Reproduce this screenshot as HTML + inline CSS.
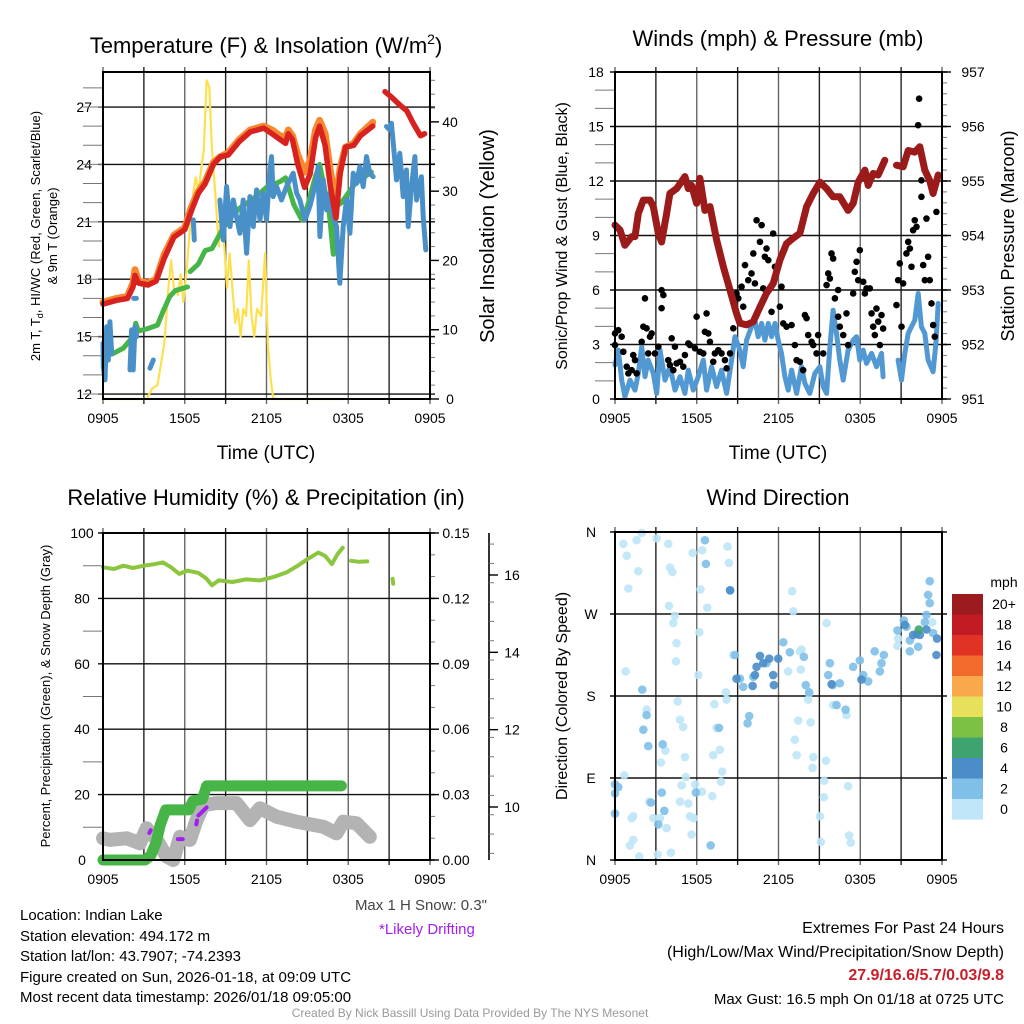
<!DOCTYPE html>
<html><head><meta charset="utf-8"><style>
html,body{margin:0;padding:0;background:#fff;}
svg{display:block;font-family:"Liberation Sans",Arial,sans-serif;}
</style></head><body>
<svg id="c" width="1024" height="1024" viewBox="0 0 1024 1024" xmlns="http://www.w3.org/2000/svg"></svg>
<script>
// ---------- DATA ----------
const timeTickLabels = ["0905","1505","2105","0305","0905"];
// Panel 1 (hours since 0905, deg F)
const tempRed = [[0,16.7],[1,16.9],[1.8,17.0],[2.2,17.6],[2.35,18.2],[2.6,17.8],[3.3,17.7],[3.9,17.9],[4.5,19.1],[5.2,20.2],[6.0,20.6],[6.5,21.6],[7,22.5],[7.5,23.0],[8.1,24.0],[8.6,24.4],[9.2,24.5],[10,25.2],[10.8,25.7],[11.8,25.9],[12.4,25.6],[13,25.3],[13.4,25.1],[13.6,25.6],[13.9,25.3],[14.3,24.0],[14.8,22.8],[15.2,23.5],[15.6,25.4],[15.9,26.0],[16.3,25.0],[16.7,22.8],[17.1,21.2],[17.4,23.5],[17.8,24.9],[18.4,25.0],[18.9,25.5],[19.8,26.0],null,[20.7,27.8],[21.2,27.5],[21.8,27.1],[22.3,26.8],[22.8,26.1],[23.3,25.5],[23.6,25.6]];
const tempOrange = [[0,16.8],[1,17.0],[1.8,17.1],[2.2,17.8],[2.35,18.5],[2.6,17.9],[3.3,17.8],[3.9,18.0],[4.5,19.3],[5.2,20.3],[6.0,20.7],[6.5,21.8],[7,22.6],[7.5,23.1],[8.1,24.1],[8.6,24.4],[9.2,24.6],[10,25.3],[10.8,25.8],[11.8,26.0],[12.4,25.8],[13,25.5],[13.4,25.4],[13.6,25.8],[13.9,25.5],[14.3,24.5],[14.8,23.6],[15.2,24.2],[15.6,25.8],[15.9,26.3],[16.3,25.6],[16.7,23.6],[17.1,22.0],[17.4,23.8],[17.8,24.9],[18.4,25.1],[18.9,25.6],[19.8,26.2]];
const dewGreen = [[0,14.0],[0.7,14.1],[1.5,14.4],[2.2,15.0],[2.4,15.7],[2.6,15.3],[3.2,15.4],[4,15.6],[4.4,16.3],[4.9,17.1],[5.3,17.4],[6.2,17.6],null,[6.4,18.4],[7,18.8],[7.5,19.5],[8,19.6],[8.6,20.4],[9.3,21.2],[10,21.7],[11,22.2],[12,22.8],[13,23.1],[13.4,23.3],[14,21.9],[14.6,21.1],[15,21.8],[15.6,23.4],[15.9,24.0],[16.3,22.6],[16.6,21.5],[16.9,19.3],[17.1,21.8],[17.5,22.0],[18.5,23.0],[19.7,23.6]];
const chillBlue = [[0,14.65],[0.02,13.43],[0.15,12.74],[0.27,15.52],[0.39,13.78],[0.51,15.78],[0.64,14.13],null,[1.98,13.26],[2.1,15.35],[2.22,13.26],[2.35,15.52],[2.47,15.0],null,[2.25,17.0],[2.45,17.0],null,[3.45,13.35],[3.69,13.78],null,[6.63,21.1],[6.7,20.05],null,[8.58,22.14],[8.83,20.05],[9.07,22.84],[9.32,20.75],[9.56,22.14],[9.8,21.27],[10.05,20.4],[10.29,22.14],[10.54,19.36],[10.78,22.32],[11.03,20.75],[11.27,22.67],[11.52,21.1],[11.76,22.5],[12.0,21.1],[12.25,23.71],[12.37,24.41],[12.49,22.32],[12.74,22.84],[13.1,22.14],[13.47,22.84],[13.96,23.54],[14.21,22.5],[14.45,22.14],[14.82,21.1],[15.18,21.8],[15.43,22.5],[15.67,23.19],[15.79,23.88],[15.92,20.23],[16.16,23.19],[16.41,21.62],[16.65,22.5],[16.89,21.27],[17.14,20.75],[17.38,17.79],[17.51,19.36],[17.63,20.75],[17.87,22.14],[18.12,20.4],[18.36,23.54],[18.61,23.01],[18.85,23.88],[19.1,22.84],[19.34,24.41],[19.58,23.54],[19.83,23.36],null,[20.81,25.98],[21.05,25.8],[21.17,26.15],[21.42,24.23],[21.54,23.19],[21.78,24.58],[22.03,22.32],[22.27,23.71],[22.4,20.75],[22.64,22.84],[22.89,24.41],[23.01,22.14],[23.37,23.36],[23.5,21.27],[23.69,19.53]];
const solar = [[0,0],[3.2,0],[3.6,1.5],[4.0,2],[4.5,8],[4.8,16],[5.0,20],[5.2,16],[5.5,15],[5.7,18],[5.9,14],[6.2,20],[6.5,28],[6.8,32],[7.0,30],[7.4,36],[7.6,46],[7.8,45],[8.0,36],[8.3,28],[8.5,22],[8.7,28],[8.9,22],[9.1,16],[9.3,21],[9.5,16],[9.7,11],[9.9,13],[10.1,9],[10.3,13],[10.5,12],[10.7,20],[10.9,12],[11.1,9],[11.3,13],[11.6,12],[11.9,21],[12.1,8],[12.3,3],[12.5,0],[17.5,0]];
const tempTicks = [12,15,18,21,24,27];
const solarTicks = [0,10,20,30,40];
// Panel 2
const pressure = [[0,954.19],[0.37,954.10],[0.73,953.82],[1.22,953.98],[1.47,953.98],[1.71,954.40],[2.08,954.65],[2.57,954.65],[2.81,954.53],[3.18,954.04],[3.42,953.88],[3.79,954.40],[4.03,954.77],[4.52,954.86],[4.77,954.95],[5.13,955.08],[5.38,954.86],[5.62,954.92],[5.99,954.59],[6.23,955.05],[6.60,954.46],[6.97,954.53],[7.46,953.92],[7.95,953.43],[8.44,953.00],[8.92,952.57],[9.17,952.39],[9.66,952.36],[10.15,952.42],[10.64,952.69],[11.12,952.94],[11.61,953.12],[12.10,953.55],[12.59,953.85],[13.08,953.95],[13.57,954.04],[14.06,954.53],[14.55,954.77],[15.04,954.98],[15.53,954.86],[16.01,954.71],[16.50,954.71],[17.11,954.46],[17.48,954.59],[17.85,954.98],[18.34,955.20],[18.58,954.92],[18.95,955.14],[19.32,955.11],[19.80,955.38],null,[20.66,955.29],[21.15,955.26],[21.52,955.56],[22.0,955.53],[22.37,955.63],[22.74,955.20],[23.1,955.01],[23.35,954.77],[23.72,955.11]];
const windSpeed = [[0,1.87],[0.24,2.69],[0.49,1.04],[0.73,0.13],[1.1,1.04],[1.47,0.49],[1.71,1.41],[1.96,2.88],[2.2,1.23],[2.44,2.14],[2.81,1.41],[3.06,0.31],[3.3,2.69],[3.67,1.04],[4.03,1.78],[4.4,0.49],[4.77,1.23],[5.13,0.31],[5.38,1.59],[5.75,0.49],[6.11,1.23],[6.48,2.14],[6.72,0.49],[7.09,1.78],[7.46,0.68],[7.82,1.59],[8.19,0.31],[8.56,2.14],[8.8,3.43],[9.17,2.69],[9.41,1.78],[9.66,3.24],[10.02,3.98],[10.27,4.34],[10.51,3.43],[10.76,4.16],[11.0,3.24],[11.25,4.16],[11.49,3.43],[11.74,4.16],[11.98,3.24],[12.22,2.51],[12.47,1.23],[12.71,0.49],[12.96,1.59],[13.33,0.31],[13.69,1.78],[13.94,0.86],[14.3,0.31],[14.67,1.41],[15.04,1.78],[15.28,0.68],[15.53,0.31],[15.77,2.88],[16.01,4.89],[16.26,3.61],[16.5,2.14],[16.75,1.04],[17.11,2.69],[17.48,3.24],[17.73,3.43],[17.97,2.14],[18.22,2.69],[18.46,1.96],[18.83,2.51],[19.19,1.78],[19.56,2.51],[19.68,1.23],null,[20.78,2.14],[21.03,1.04],[21.27,2.51],[21.52,3.61],[21.76,3.98],[22.0,4.34],[22.25,5.81],[22.49,3.98],[22.74,3.61],[22.98,2.14],[23.35,1.5],[23.55,3.06],[23.72,5.26]];
const gustT = [0,0,0.24,0.49,0.61,0.86,0.98,1.22,1.34,1.47,1.59,1.96,2.08,2.2,2.32,2.44,2.57,2.69,2.93,3.18,3.42,3.55,3.42,3.91,4.03,4.16,4.28,4.4,4.52,4.77,5.01,5.13,5.38,5.5,5.87,5.99,6.23,6.48,6.6,6.72,6.85,6.97,7.21,7.33,7.58,7.82,8.07,8.19,8.44,8.68,8.92,9.05,9.29,9.41,9.54,9.78,10.02,10.15,10.27,10.39,10.64,10.76,10.88,11.0,11.12,11.25,11.49,11.61,11.74,12.1,12.22,12.35,12.59,12.96,13.2,13.33,13.57,13.81,13.94,14.06,14.18,14.43,14.55,14.79,14.91,15.28,15.53,15.65,15.77,15.89,16.01,16.14,16.38,16.38,16.5,16.75,16.99,17.11,17.48,17.6,17.73,17.85,17.97,18.22,18.34,18.46,18.7,18.83,18.95,19.07,19.19,19.32,19.44,19.56,19.68,20.66,20.78,20.9,21.03,21.15,21.39,21.52,21.64,21.76,21.88,22.0,22.13,22.25,22.32,22.49,22.49,22.62,22.74,22.86,22.98,23.1,23.23,23.35,23.47,23.59];
const gustV = [2.97,3.61,3.79,3.43,2.6,1.78,1.41,1.59,2.42,2.14,1.41,3.15,3.98,5.54,3.89,2.51,3.43,3.61,2.51,2.88,5.99,5.72,5.0,2.14,1.87,3.34,1.59,2.88,1.96,2.05,1.78,2.42,3.06,2.97,2.79,4.53,2.6,2.51,3.7,4.71,3.61,3.15,2.05,2.51,2.69,2.51,2.14,1.69,2.51,3.89,5.81,5.54,6.18,5.08,7.37,6.54,6.91,8.01,6.36,9.84,8.65,9.57,6.09,7.83,8.28,7.64,4.8,9.11,7.28,5.08,6.18,4.16,3.98,4.07,2.97,2.14,2.05,1.59,4.62,4.45,3.52,3.15,2.97,2.51,3.52,2.51,6.27,6.91,6.63,8.01,7.73,5.54,6.0,4.53,3.98,3.52,4.71,2.97,5.81,7.0,7.55,6.54,8.19,6.45,5.81,6.09,6.09,4.71,3.98,3.52,4.98,4.26,2.97,4.62,3.88,5.17,6.54,7.46,3.98,6.36,8.01,8.65,8.28,7.28,9.29,9.84,9.48,15.07,16.53,12.04,11.13,7.37,6.54,9.93,7.83,6.54,5.26,4.07,3.43,10.3];
const windTicks = [0,3,6,9,12,15,18];
const presTicks = [951,952,953,954,955,956,957];
// Panel 3
const rh = [[0,89.5],[0.8,89.0],[1.5,90.0],[2.2,89.3],[3.0,90.0],[3.8,90.5],[4.4,91.0],[5.0,89.5],[5.6,87.5],[6.2,88.5],[7.0,87.8],[7.6,86.0],[8.0,84.0],[8.5,85.5],[9.5,85.0],[10.5,85.8],[11.5,85.5],[12.5,86.5],[13.5,88.0],[14.3,90.0],[15.0,92.0],[15.8,94.0],[16.3,93.0],[16.8,90.5],[17.2,93.5],[17.6,95.5],null,[18.2,91.5],[18.8,91.2],[19.4,91.3],null,[21.25,86],[21.3,84.5]];
const precip = [[0,0],[3.1,0],[3.5,0.002],[3.9,0.008],[4.2,0.016],[4.6,0.023],[6.3,0.023],[6.6,0.027],[7.3,0.028],[7.6,0.034],[17.5,0.034]];
const snowDepth = [[0,9.19],[0.51,9.15],[1.74,9.19],[2.71,9.06],[3.2,9.45],[3.94,9.15],[4.67,8.72],[5.16,8.63],[5.65,9.23],[6.38,9.15],[6.87,9.66],[7.36,10.05],[8.34,10.1],[9.8,10.1],[10.78,9.66],[11.52,9.97],[12.74,9.75],[14.2,9.62],[16.16,9.49],[17.14,9.32],[17.63,9.62],[18.6,9.58],[19.58,9.23]];
const drifting = [[[3.4,9.33],[3.5,9.4]],[[5.5,9.17],[5.85,9.17]],[[6.85,9.55],[6.9,9.65]],[[7.0,9.78],[7.6,9.99]]];
const rhTicks = [0,20,40,60,80,100];
const precipTicks = ["0.00","0.03","0.06","0.09","0.12","0.15"];
const snowTicks = [10,12,14,16];
// Panel 4 (hours, degrees, speed class mph)
const dirT = [0.61,0.86,1.59,1.96,1.71,0.98,3.06,3.91,4.03,4.21,3.96,4.4,4.28,4.52,4.47,5.7,6.4,8.26,8.36,6.28,6.77,6.19,6.11,0.78,4.6,4.77,5.0,5.13,5.2,4.89,4.77,5.38,5.5,5.62,4.1,3.13,1.78,1.1,1.34,1.22,1.34,2.81,3.3,3.79,2.52,3.37,3.7,2.32,0.68,5.89,6.38,5.77,7.14,7.78,7.87,7.21,7.7,7.46,7.29,8.14,8.19,8.68,13.0,13.08,13.69,13.64,12.71,13.45,14.35,13.2,13.33,14.55,14.5,15.48,15.35,15.33,15.04,15.11,17.11,17.18,17.31,15.53,13.57,14.18,14.25,16.99,16.01,23.28,20.78,20.73,
6.6,6.67,8.46,2.0,2.32,2.08,2.44,3.5,0,0.24,0,0,2.64,3.43,3.62,3.18,5.94,7.02,7.63,9.85,9.73,8.8,9.17,9.41,10.15,11.12,12.35,12.83,13.86,14.0,14.25,15.77,15.65,15.97,16.5,16.26,16.92,17.48,17.97,18.22,18.58,19.06,19.56,19.44,19.73,23.1,22.98,23.1,22.86,22.74,21.2,20.73,21.64,22.25,21.64,23.35,21.39,
10.64,11.32,11.98,10.39,10.88,10.27,11.61,8.92,10.1,11.66,15.9,18.09,21.27,21.88,22.13,22.86,23.59,23.64,22.37,8.44,22.3];
const dirDeg = [347,334,351,359,317,298,353,347,321,316,279,268,260,238,218,337,340,344,326,297,277,250,203,207,174,154,146,113,91,82,64,62,48,28,8,6,4,16,22,46,48,46,46,35,64,107,120,165,93,83,75,46,70,86,97,115,121,145,171,184,176,225,295,273,231,209,207,153,151,132,115,113,101,109,87,69,48,20,81,27,19,260,229,176,183,159,170,261,243,235,
351,325,296,187,159,143,125,127,83,80,73,51,63,74,54,39,74,16,145,158,150,225,199,190,201,216,239,228,223,192,184,216,203,192,194,170,165,212,219,203,196,229,216,207,225,306,291,282,269,261,263,252,241,234,229,249,256,
224,221,221,212,216,203,203,199,191,192,193,198,258,247,248,253,225,243,247,296,253];
const dirSpd = [0,0,0,0,0,0,0,0,0,0,0,0,0,0,0,0,0,0,0,0,0,0,0,0,0,0,0,0,0,0,0,0,0,0,0,0,0,0,0,0,0,0,0,0,0,0,0,0,0,0,0,0,0,0,0,0,0,0,0,0,0,0,0,0,0,0,0,0,0,0,0,0,0,0,0,0,0,0,0,0,0,0,0,0,0,0,0,0,0,0,
2,2,2,2,2,2,2,2,2,2,2,2,2,2,2,2,2,2,2,2,2,2,2,2,2,2,2,2,2,2,2,2,2,2,2,2,2,2,2,2,2,2,2,2,2,2,2,2,2,2,2,2,2,2,2,2,2,
4,4,4,4,4,4,4,4,4,4,4,4,4,4,4,4,4,4,4,4,6];
const dirTickLabels = ["N","E","S","W","N"];
const cbLabels = ["20+","18","16","14","12","10","8","6","4","2","0"];
const cbColors = ["#9b1b1e","#c11b24","#e03326","#f26a2c","#f9a94b","#e6e05a","#7cc144","#3fa36f","#4a8dc8","#80bfe8","#bfe6f8"];
const speedColor = {0:"#bfe6f8",2:"#80bfe8",4:"#4a8dc8",6:"#3fa36f"};

// ---------- HELPERS ----------
const svg = document.getElementById('c');
const NS = "http://www.w3.org/2000/svg";
function el(tag, attrs, parent){const e=document.createElementNS(NS,tag);for(const k in attrs)e.setAttribute(k,attrs[k]);(parent||svg).appendChild(e);return e;}
function txt(s, x, y, size, anchor, extra, parent){const t=el('text',Object.assign({x:x,y:y,'font-size':size,'text-anchor':anchor||'middle',fill:'#000'},extra||{}),parent);t.textContent=s;return t;}
function lin(d0,d1,r0,r1){return v=>r0+(v-d0)/(d1-d0)*(r1-r0);}
function pathFrom(arr,sx,sy){let d='',pen=false;for(const p of arr){if(!p){pen=false;continue;}d+=(pen?'L':'M')+sx(p[0]).toFixed(1)+' '+sy(p[1]).toFixed(1);pen=true;}return d;}
function timeGrid(g,x0,y0,w,h){
  const sx=lin(0,24,x0,x0+w);
  for(let i=0;i<=8;i++){const x=sx(i*3);const l=el('line',{x1:x,y1:y0-5,x2:x,y2:y0+h+5,stroke:(i%2?'#222':'#666'),'stroke-width':1.4},g);}
  timeTickLabels.forEach((s,i)=>{const t=txt(s,sx(i*6),y0+h+24,14,'middle',{},g);});
  return sx;
}
function frame(g,x0,y0,w,h){const r=el('rect',{x:x0,y:y0,width:w,height:h,fill:'none',stroke:'#000','stroke-width':2},g);}
function hline(g,x0,w,y){const l=el('line',{x1:x0-5,y1:y,x2:x0+w+5,y2:y,stroke:'#111','stroke-width':1.4},g);}
function minorTicks(g,x,ys,dir){ys.forEach(y=>{const l=el('line',{x1:x,y1:y,x2:x+dir*5,y2:y,stroke:'#777','stroke-width':1},g);});}

// ---------- PANEL 1 ----------
(function(){
const g=el('g',{});  
const x0=103,y0=72,w=327,h=327;
const sx=timeGrid(g,x0,y0,w,h);
const sy=lin(11.74,28.83,y0+h,y0);
const sy2=lin(0,47.2,y0+h,y0);
tempTicks.forEach(v=>{hline(g,x0,w,sy(v));const t=txt(String(v),92,sy(v)+5,14,'end',{},g);});
const mt=[];for(let v=12;v<=28;v++)mt.push(sy(v));minorTicks(g,x0,mt,-4);
const mr=[];for(let v=0;v<=46;v+=2)mr.push(sy2(v));minorTicks(g,x0+w,mr,1);
solarTicks.forEach(v=>{const l=el('line',{x1:x0+w,y1:sy2(v),x2:x0+w+9,y2:sy2(v),stroke:'#000','stroke-width':1.4},g);const t=txt(String(v),450,sy2(v)+5,14,'middle',{},g);});
const series=[[solar,'#fde04f',2.2,sy2,'solar-insolation-line'],[dewGreen,'#45b549',5,sy,'dewpoint-line'],[chillBlue,'#4a90c8',5,sy,'windchill-line'],[tempOrange,'#f7882f',7,sy,'9m-temp-line'],[tempRed,'#d7221f',5.5,sy,'2m-temp-line']];
series.forEach(s=>{const p=el('path',{d:pathFrom(s[0],sx,s[3]),fill:'none',stroke:s[1],'stroke-width':s[2],'stroke-linejoin':'round','stroke-linecap':'round'},g);});
frame(g,x0,y0,w,h);
const t1=el('text',{x:266,y:53,'font-size':22,'text-anchor':'middle'},g);t1.innerHTML='Temperature (F) &amp; Insolation (W/m<tspan font-size="14" dy="-9">2</tspan><tspan dy="9">)</tspan>';
const t2=txt('Time (UTC)',266,459,19,'middle',{},g);
const yl=el('text',{x:0,y:0,'font-size':13,'text-anchor':'middle',transform:'translate(40,236) rotate(-90)'},g);yl.innerHTML='2m T, T<tspan font-size="9" dy="3">d</tspan><tspan dy="-3">, HI/WC (Red, Green, Scarlet/Blue)</tspan>';
const yl2=txt('& 9m T (Orange)',0,0,13,'middle',{transform:'translate(57,236) rotate(-90)'},g);
const yr=txt('Solar Insolation (Yellow)',0,0,20,'middle',{transform:'translate(494,236) rotate(-90)'},g);
})();

// ---------- PANEL 2 ----------
(function(){
const g=el('g',{});  
const x0=615,y0=72,w=327,h=327;
const sx=timeGrid(g,x0,y0,w,h);
const sy=lin(0,18,y0+h,y0), sp=lin(951,957,y0+h,y0);
windTicks.forEach(v=>{hline(g,x0,w,sy(v));const t=txt(String(v),596,sy(v)+5,14,'middle',{},g);});
const ml=[];for(let v=1;v<18;v++)if(v%3)ml.push(sy(v));minorTicks(g,x0,ml,-4);
const mr=[];for(let v=951;v<=957;v+=0.2)mr.push(sp(v));minorTicks(g,x0+w,mr,1);
presTicks.forEach(v=>{const l=el('line',{x1:x0+w,y1:sp(v),x2:x0+w+9,y2:sp(v),stroke:'#000','stroke-width':1.4},g);const t=txt(String(v),973,sp(v)+5,14,'middle',{},g);});
const pw=el('path',{d:pathFrom(windSpeed,sx,sy),fill:'none',stroke:'#5298d3','stroke-width':5,'stroke-linejoin':'round','stroke-linecap':'round'},g);
gustT.forEach((t,i)=>{const c=el('circle',{cx:sx(t),cy:sy(gustV[i]),r:3.3,fill:'#000'},g);});
const pp=el('path',{d:pathFrom(pressure,sx,sp),fill:'none',stroke:'#9b1a1a','stroke-width':7,'stroke-linejoin':'round','stroke-linecap':'round'},g);
frame(g,x0,y0,w,h);
const t1=txt('Winds (mph) & Pressure (mb)',778,46,22,'middle',{},g);
const t2=txt('Time (UTC)',778,459,19,'middle',{},g);
const yl=txt('Sonic/Prop Wind & Gust (Blue, Black)',0,0,16,'middle',{transform:'translate(567,236) rotate(-90)'},g);
const yr=txt('Station Pressure (Maroon)',0,0,18,'middle',{transform:'translate(1014,236) rotate(-90)'},g);
})();

// ---------- PANEL 3 ----------
(function(){
const g=el('g',{});  
const x0=103,y0=533,w=327,h=327;
const sx=timeGrid(g,x0,y0,w,h);
const sy=lin(0,100,y0+h,y0), sq=lin(0,0.15,y0+h,y0), ss=lin(10,16,807,575);
rhTicks.forEach(v=>{hline(g,x0,w,sy(v));const t=txt(String(v),82,sy(v)+5,14,'middle',{},g);});
const ml=[];for(let v=10;v<100;v+=20)ml.push(sy(v));minorTicks(g,x0,ml,-4);
const mr=[];for(let v=0;v<=0.15;v+=0.01)mr.push(sq(v));minorTicks(g,x0+w,mr,1);
precipTicks.forEach(s=>{const v=parseFloat(s);const l=el('line',{x1:x0+w,y1:sq(v),x2:x0+w+9,y2:sq(v),stroke:'#000','stroke-width':1.4},g);const t=txt(s,456,sq(v)+5,14,'middle',{},g);});
const sp=el('line',{x1:489,y1:533,x2:489,y2:860,stroke:'#000','stroke-width':1.6},g);
const ms=[];for(let v=8.8;v<=17;v+=0.5)ms.push(ss(v));minorTicks(g,489,ms.filter(y=>y>=535&&y<=858),1);
snowTicks.forEach(v=>{const l=el('line',{x1:489,y1:ss(v),x2:498,y2:ss(v),stroke:'#000','stroke-width':1.4},g);const t=txt(String(v),512,ss(v)+5,14,'middle',{},g);});
const pg=el('path',{d:pathFrom(snowDepth,sx,ss),fill:'none',stroke:'#b3b3b3','stroke-width':14,'stroke-linejoin':'round','stroke-linecap':'round'},g);
const pq=el('path',{d:pathFrom(precip,sx,sq),fill:'none',stroke:'#46b446','stroke-width':11,'stroke-linejoin':'round','stroke-linecap':'round'},g);
drifting.forEach(seg=>{const p=el('path',{d:pathFrom(seg,sx,ss),fill:'none',stroke:'#a020f0','stroke-width':4,'stroke-linecap':'round'},g);});
const pr=el('path',{d:pathFrom(rh,sx,sy),fill:'none',stroke:'#8cc63f','stroke-width':4,'stroke-linejoin':'round','stroke-linecap':'round'},g);
frame(g,x0,y0,w,h);
const t1=txt('Relative Humidity (%) & Precipitation (in)',266,505,22,'middle',{},g);
const yl=txt('Percent, Precipitation (Green), & Snow Depth (Gray)',0,0,13,'middle',{transform:'translate(50,696) rotate(-90)'},g);
})();

// ---------- PANEL 4 ----------
(function(){
const g=el('g',{});  
const x0=615,y0=532,w=327,h=328;
const sx=timeGrid(g,x0,y0,w,h);
const sy=lin(0,360,y0+h,y0);
dirTickLabels.forEach((s,i)=>{hline(g,x0,w,sy(i*90));const t=txt(s,591,sy(i*90)+5,14,'middle',{},g);});
dirT.forEach((t,i)=>{const c=el('circle',{cx:sx(t),cy:sy(dirDeg[i]),r:4.3,fill:speedColor[dirSpd[i]],'fill-opacity':0.9},g);});
frame(g,x0,y0,w,h);
const t1=txt('Wind Direction',778,505,22,'middle',{},g);
const yl=txt('Direction (Colored By Speed)',0,0,16,'middle',{transform:'translate(567,696) rotate(-90)'},g);
const cb=el('g',{},g);
const u=txt('mph',1004,587,14,'middle',{},cb);
cbLabels.forEach((s,i)=>{const r=el('rect',{x:952,y:594+i*20.5,width:31,height:20.6,fill:cbColors[i]},cb);const t=txt(s,1004,609+i*20.5,14,'middle',{},cb);});
})();
</script>
<svg width="0" height="0" style="position:absolute"></svg>
<div style="position:absolute;left:0;top:0;width:1024px;height:1024px;pointer-events:none;font-family:'Liberation Sans',Arial,sans-serif;">
<div style="position:absolute;left:20px;top:906px;font-size:15px;line-height:20.5px;">Location: Indian Lake<br>Station elevation: 494.172 m<br>Station lat/lon: 43.7907; -74.2393<br>Figure created on Sun, 2026-01-18, at 09:09 UTC<br>Most recent data timestamp: 2026/01/18 09:05:00</div>
<div style="position:absolute;right:537px;top:897px;font-size:15px;color:#444;">Max 1 H Snow: 0.3"</div>
<div style="position:absolute;left:379px;top:921px;font-size:15px;color:#a020f0;">*Likely Drifting</div>
<div style="position:absolute;right:20px;top:917px;font-size:16px;line-height:23.5px;text-align:right;">Extremes For Past 24 Hours<br>(High/Low/Max Wind/Precipitation/Snow Depth)<br><b style="color:#c8202a;">27.9/16.6/5.7/0.03/9.8</b><br><span style="font-size:15px;">Max Gust: 16.5 mph On 01/18 at 0725 UTC</span></div>
<div style="position:absolute;left:0;width:940px;text-align:center;top:1006px;font-size:12px;color:#999;">Created By Nick Bassill Using Data Provided By The NYS Mesonet</div>
</div>
</body></html>
